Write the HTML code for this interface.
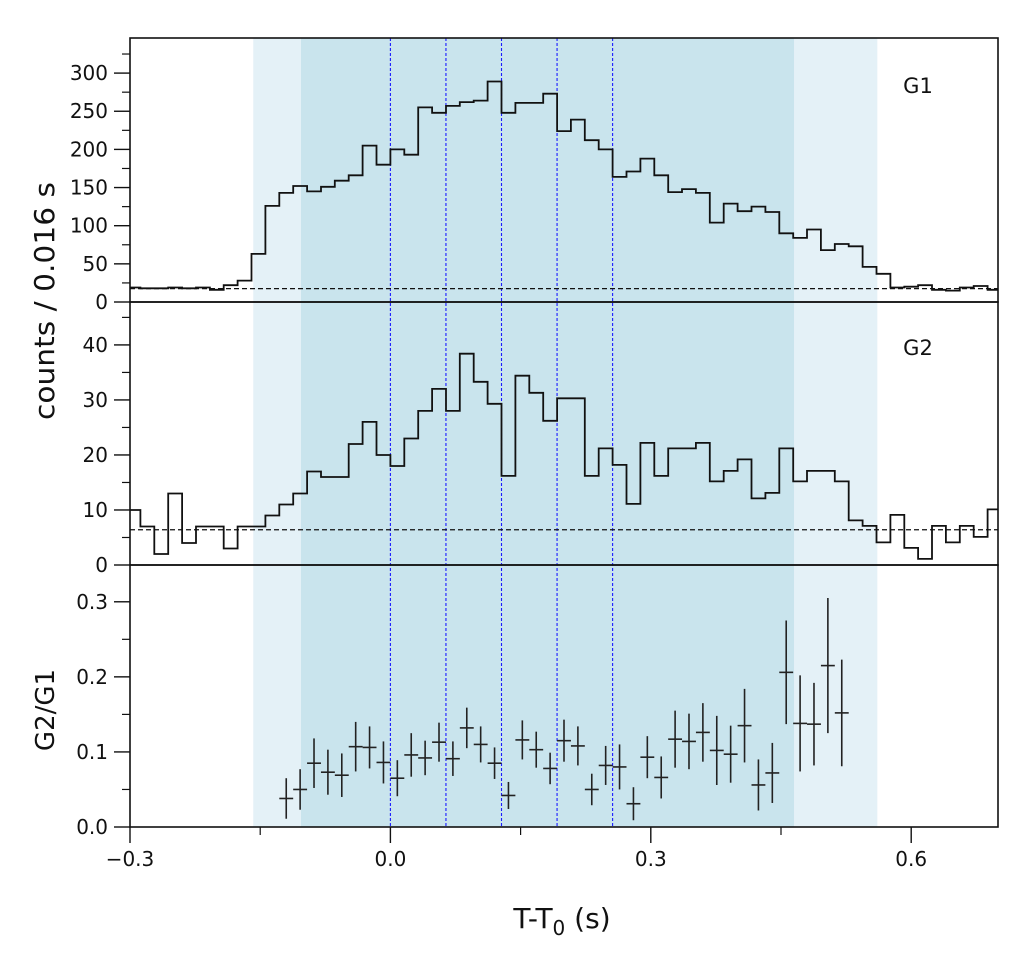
<!DOCTYPE html>
<html><head><meta charset="utf-8">
<style>
html,body{margin:0;padding:0;background:#fff;}
svg{display:block;font-family:"DejaVu Sans","Liberation Sans",sans-serif;}
</style></head>
<body>
<svg id="chart" width="1034" height="965" viewBox="0 0 1034 965" xmlns="http://www.w3.org/2000/svg" style="position:absolute;left:0;top:0;"></svg>
<script>
// ---- data ----
const binWidth = 0.016;
const firstBin = -19; // bin k covers [k*0.016,(k+1)*0.016]
const g1Counts = [19,18,18,19,18,19,16,22,28,63,126,143,152,145,151,159,166,205,180,
  200,193,255,248,257,262,264,289,248,261,261,273,224,239,212,200,164,171,188,166,144,148,143,104,129,119,125,118,90,84,95,68,76,73,46,37,19,20,22,16,15,19,21,16];
const g2Counts = [10,7,2,13,4,7,7,3,7,7,9,11,13,17,16,16,22,26,20,
  18,23,28,32,28,38.4,33.3,29.3,16.2,34.4,31.3,26.2,30.3,30.3,16.2,21.2,18.2,11.1,22.2,16.2,21.2,21.2,22.2,15.2,17.1,19.2,12.1,13.1,21.2,15.2,17.1,17.1,15.2,8.1,7.1,4.1,9.1,3.1,1.1,7.1,4.1,7.1,5.1,10.1];
const g1Background = 17.5;
const g2Background = 6.4;
const ratioFirstBin = -8;
const ratioValues = [0.038,0.050,0.085,0.073,0.069,0.107,0.106,0.086,0.065,0.096,0.092,0.113,0.091,0.132,0.110,0.085,0.042,0.116,0.103,0.078,0.115,
  0.108,0.050,0.082,0.080,0.031,0.093,0.066,0.117,0.114,0.126,0.102,0.097,0.135,0.056,0.072,0.206,0.138,0.137,0.215,0.152];
const ratioErrors = [0.027,0.027,0.033,0.030,0.029,0.033,0.028,0.028,0.024,0.029,0.023,0.026,0.023,0.027,0.024,0.021,0.018,0.026,0.024,0.021,0.028,
  0.026,0.021,0.026,0.030,0.022,0.028,0.028,0.038,0.037,0.039,0.046,0.038,0.049,0.034,0.040,0.069,0.064,0.055,0.090,0.071];
const outerInterval = [-0.158, 0.561];
const innerInterval = [-0.103, 0.465];
const markerTimes = [0, 0.064, 0.128, 0.192, 0.256];
const xTicks = [-0.3, 0.0, 0.3, 0.6];
const xTickLabels = ["\u22120.3","0.0","0.3","0.6"];
const xMinorTicks = [-0.15, 0.15, 0.45];
const g1Ticks = [0,50,100,150,200,250,300];
const g2Ticks = [0,10,20,30,40];
const ratioTicks = [0.0,0.1,0.2,0.3];
const ratioTickLabels = ["0.0","0.1","0.2","0.3"];

// ---- layout ----
const L=130,R=998;
const xs = t => L + (t+0.3)/1.0*(R-L);
const P1={top:38,bot:302,max:346}, P2={top:302,bot:565,max:47.8}, P3={top:565,bot:827,max:0.349};
const ys = (p,v) => p.bot - v/p.max*(p.bot-p.top);
const NS="http://www.w3.org/2000/svg";
const svg=document.getElementById('chart');
function mk(tag, attrs, parent){const e=document.createElementNS(NS,tag);for(const k in attrs)e.setAttribute(k,attrs[k]);(parent||svg).appendChild(e);return e;}
const defs=mk('defs',{});
const cp=mk('clipPath',{id:'plotclip'},defs);
mk('rect',{x:L,y:P1.top,width:R-L,height:P3.bot-P1.top},cp);

let r=mk('rect',{x:xs(outerInterval[0]),y:P1.top,width:xs(outerInterval[1])-xs(outerInterval[0]),height:P3.bot-P1.top,fill:'#e4f1f7'});

r=mk('rect',{x:xs(innerInterval[0]),y:P1.top,width:xs(innerInterval[1])-xs(innerInterval[0]),height:P3.bot-P1.top,fill:'#c9e4ed'});

markerTimes.forEach(t=>{
  const l=mk('line',{x1:xs(t),x2:xs(t),y1:P1.top,y2:P3.bot,stroke:'#1a1aff','stroke-width':1.1,'stroke-dasharray':'3,2'});
  
  
});

function hist(p, counts, name){
  let d='';
  counts.forEach((v,i)=>{
    const k=firstBin+i;
    const x0=xs(k*binWidth), x1=xs((k+1)*binWidth), y=ys(p,v);
    d += (i===0?'M':'L')+x0.toFixed(1)+','+y.toFixed(1)+'L'+x1.toFixed(1)+','+y.toFixed(1);
  });
  const e=mk('path',{d:d,fill:'none',stroke:'#111','stroke-width':1.8,'clip-path':'url(#plotclip)'});
  
  
}
hist(P1,g1Counts,'g1-histogram');
hist(P2,g2Counts,'g2-histogram');
let bl=mk('line',{x1:L,x2:R,y1:ys(P1,g1Background),y2:ys(P1,g1Background),stroke:'#111','stroke-width':1.3,'stroke-dasharray':'5,3'});

bl=mk('line',{x1:L,x2:R,y1:ys(P2,g2Background),y2:ys(P2,g2Background),stroke:'#111','stroke-width':1.3,'stroke-dasharray':'5,3'});


ratioValues.forEach((v,i)=>{
  const k=ratioFirstBin+i, e=ratioErrors[i];
  const g=mk('g',{stroke:'#222','stroke-width':1.6});
  
  
  const xc=xs((k+0.5)*binWidth);
  mk('line',{x1:xs(k*binWidth),x2:xs((k+1)*binWidth),y1:ys(P3,v),y2:ys(P3,v)},g);
  mk('line',{x1:xc,x2:xc,y1:ys(P3,v-e),y2:ys(P3,v+e)},g);
});

[P1,P2,P3].forEach((p,i)=>{
  const f=mk('rect',{x:L,y:p.top,width:R-L,height:p.bot-p.top,fill:'none',stroke:'#111','stroke-width':1.6});
  
  
});

function yAxis(p, ticks, labels, minorStep, name){
  const g=mk('g',{});
  
  
  ticks.forEach((v,i)=>{
    const y=ys(p,v);
    mk('line',{x1:L-16,x2:L,y1:y,y2:y,stroke:'#111','stroke-width':1.4},g);
    const t=mk('text',{x:L-22,y:y+7,'text-anchor':'end','font-size':20,fill:'#111'},g);
    t.textContent=labels[i];
  });
  for(let v=minorStep; v<p.max; v+=minorStep){
    if(ticks.some(t=>Math.abs(t-v)<1e-6))continue;
    const y=ys(p,v);
    mk('line',{x1:L-8,x2:L,y1:y,y2:y,stroke:'#111','stroke-width':1.2},g);
  }
}
yAxis(P1,g1Ticks,g1Ticks.map(String),25,'g1-y-axis');
yAxis(P2,g2Ticks,g2Ticks.map(String),5,'g2-y-axis');
yAxis(P3,ratioTicks,ratioTickLabels,0.05,'ratio-y-axis');

const xg=mk('g',{});


xTicks.forEach((v,i)=>{
  const x=xs(v);
  mk('line',{x1:x,x2:x,y1:P3.bot,y2:P3.bot+16,stroke:'#111','stroke-width':1.4},xg);
  const t=mk('text',{x:x,y:P3.bot+39,'text-anchor':'middle','font-size':20,fill:'#111'},xg);
  t.textContent=xTickLabels[i];
});
xMinorTicks.forEach(v=>{
  const x=xs(v);
  mk('line',{x1:x,x2:x,y1:P3.bot,y2:P3.bot+8,stroke:'#111','stroke-width':1.2},xg);
});
</script>
<svg width="1034" height="965" style="position:absolute;left:0;top:0;font-family:'DejaVu Sans','Liberation Sans',sans-serif;">
<text x="918" y="93" text-anchor="middle" font-size="21" fill="#111">G1</text>
<text x="918" y="355" text-anchor="middle" font-size="21" fill="#111">G2</text>
<text transform="translate(54,301) rotate(-90)" text-anchor="middle" font-size="28" fill="#111" textLength="238" lengthAdjust="spacingAndGlyphs">counts / 0.016 s</text>
<text transform="translate(54,710) rotate(-90)" text-anchor="middle" font-size="26" fill="#111">G2/G1</text>
<text x="562" y="928" text-anchor="middle" font-size="28" fill="#111">T-T<tspan font-size="20" dy="7">0</tspan><tspan dy="-7"> (s)</tspan></text>
</svg>
</body></html>
